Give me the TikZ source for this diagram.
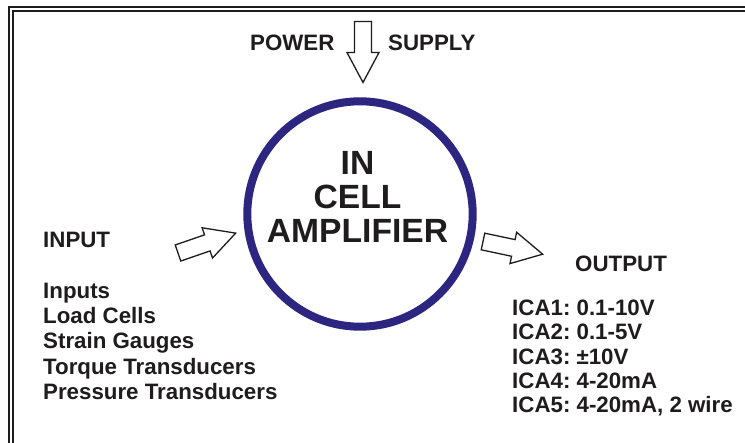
\documentclass[tikz,border=0pt]{standalone}
\usepackage{fontspec}
\setmainfont{Liberation Sans}
\usepackage{xcolor}
\usepackage{tikz}
\frenchspacing
\definecolor{ampblue}{RGB}{44, 38, 128}
\definecolor{inkblack}{RGB}{30, 28, 28}
\tikzset{
  label text/.style={font=\fontsize{22.3}{25}\selectfont\bfseries, text=inkblack, inner sep=0pt, anchor=base west},
  blockarrow/.pic={
    \draw[line width=1.3pt, line join=miter, draw=inkblack, fill=white]
      (0,-8.5) -- (31,-8.5) -- (31,-16) -- (61,0) -- (31,16) -- (31,8.5) -- (0,8.5) -- cycle;
  }
}

\begin{document}
\begin{tikzpicture}[x=1pt, y=-1pt]
    \clip (0,0) rectangle (745,443);
    \fill[white] (0,0) rectangle (745,443);
    % double frame
    \draw[line width=1.8pt, inkblack] (9,7) rectangle (800,500);
    \draw[line width=1.6pt, inkblack] (13,11) rectangle (800,500);
    % amplifier
    \node[draw=ampblue, circle, line width=8pt, minimum size=225.4pt, inner sep=0pt] (amp) at (360,214) {};
    \node[font=\fontsize{33.6}{33.6}\selectfont\bfseries, text=inkblack, align=center, inner sep=0pt] (ampname) at (357.5,197) {IN\\CELL\\AMPLIFIER};
    % power supply
    \node[label text] (power) at (250,50.5) {POWER};
    \node[label text] (supply) at (388,50.5) {SUPPLY};
    \pic[rotate=-90] at (363,21.5) {blockarrow};
    % input side
    \pic[rotate=19] at (178,253) {blockarrow};
    \node[label text] (input) at (43,248) {INPUT};
    \foreach \txt [count=\i] in {Inputs, Load Cells, Strain Gauges, Torque Transducers, Pressure Transducers}
      \node[label text] (in\i) at (43,{298.5+25.2*(\i-1)}) {\txt};
    % output side
    \pic[rotate=-12] at (483,241.5) {blockarrow};
    \node[label text] (output) at (575,271.3) {OUTPUT};
    \node[label text] (ica1) at (512,315.3) {ICA1: 0.1-10V};
    \node[label text] (ica2) at (512,339.7) {ICA2: 0.1-5V};
    \node[label text] (ica3) at (512,364.1) {ICA3: ±10V};
    \node[label text] (ica4) at (512,388.5) {ICA4: 4-20mA};
    \node[label text] (ica5) at (512,412.9) {ICA5: 4-20mA, 2 wire};
\end{tikzpicture}
\end{document}
